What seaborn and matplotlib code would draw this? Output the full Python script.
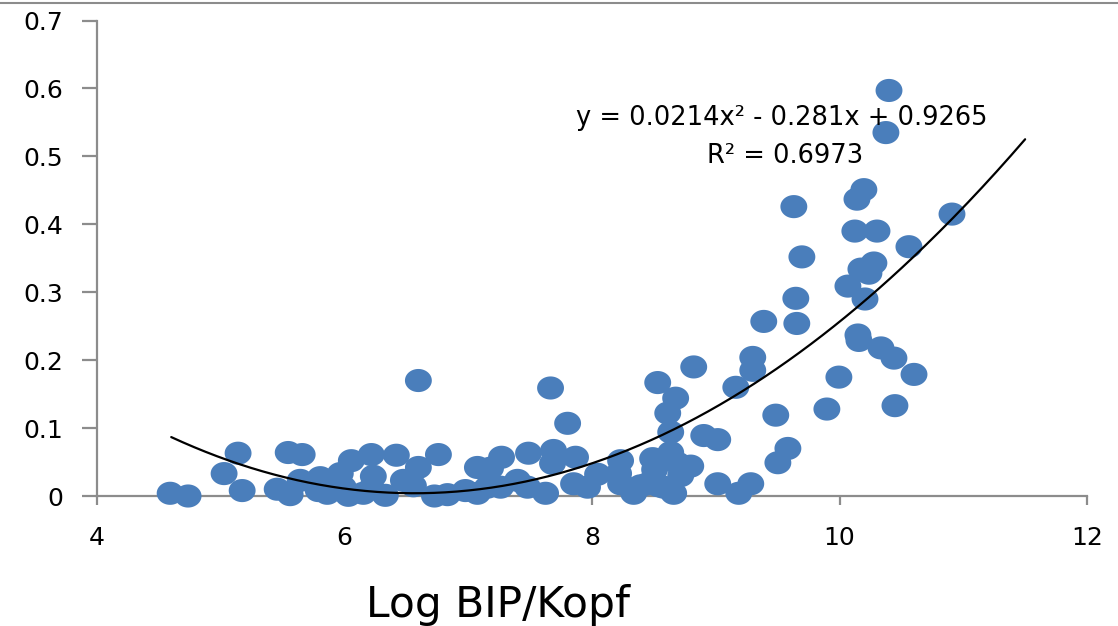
import numpy as np
import pandas as pd
import matplotlib
matplotlib.use("Agg")
import matplotlib.pyplot as plt
from matplotlib.path import Path
from matplotlib.markers import MarkerStyle
from matplotlib.lines import Line2D
import seaborn as sns

# Log GDP per capita of each country
log_bip = [
    4.591, 4.736, 5.027, 5.140, 5.173, 5.456, 5.545, 5.561, 5.642, 5.658,
    5.788, 5.804, 5.861, 5.966, 5.990, 6.031, 6.055, 6.152, 6.217, 6.217,
    6.233, 6.330, 6.419, 6.476, 6.557, 6.597, 6.597, 6.759, 6.727, 6.832,
    6.977, 7.074, 7.074, 7.155, 7.180, 7.180, 7.269, 7.261, 7.398, 7.487,
    7.479, 7.625, 7.665, 7.689, 7.681, 7.803, 7.867, 7.851, 7.964, 8.045,
    8.231, 8.215, 8.231, 8.337, 8.393, 8.450, 8.490, 8.506, 8.531, 8.539,
    8.579, 8.612, 8.636, 8.636, 8.660, 8.676, 8.693, 8.717, 8.798, 8.822,
    8.903, 9.016, 9.016, 9.162, 9.186, 9.283, 9.299, 9.299, 9.388, 9.485,
    9.502, 9.583, 9.631, 9.647, 9.655, 9.696, 9.898, 9.995, 10.068, 10.124,
    10.141, 10.149, 10.157, 10.173, 10.197, 10.206, 10.238, 10.278, 10.303, 10.335,
    10.375, 10.400, 10.440, 10.448, 10.561, 10.602, 10.909,
]

# Observed value for each country
wert = [
    0.004, 0.000, 0.033, 0.063, 0.008, 0.010, 0.064, 0.002, 0.023, 0.061,
    0.008, 0.027, 0.004, 0.033, 0.013, 0.001, 0.052, 0.004, 0.011, 0.061,
    0.029, 0.001, 0.060, 0.023, 0.015, 0.042, 0.170, 0.061, 0.000, 0.002,
    0.008, 0.042, 0.004, 0.013, 0.041, 0.018, 0.057, 0.013, 0.023, 0.063,
    0.013, 0.004, 0.159, 0.067, 0.048, 0.107, 0.057, 0.018, 0.013, 0.032,
    0.052, 0.033, 0.018, 0.004, 0.015, 0.018, 0.055, 0.039, 0.167, 0.015,
    0.013, 0.122, 0.094, 0.064, 0.004, 0.144, 0.048, 0.030, 0.044, 0.190,
    0.089, 0.083, 0.018, 0.160, 0.004, 0.018, 0.204, 0.185, 0.257, 0.119,
    0.049, 0.070, 0.426, 0.291, 0.254, 0.352, 0.128, 0.175, 0.309, 0.390,
    0.437, 0.237, 0.229, 0.334, 0.451, 0.290, 0.328, 0.343, 0.390, 0.218,
    0.535, 0.597, 0.203, 0.133, 0.367, 0.179, 0.415,
]

# Quadratic trend line coefficients and fit quality
trend_a, trend_b, trend_c = 0.0214, -0.281, 0.9265
trend_r2 = 0.6973
trend_range = (4.6, 11.5)

x_ticks = [4, 6, 8, 10, 12]
y_ticks = [0, 0.1, 0.2, 0.3, 0.4, 0.5, 0.6, 0.7]
y_tick_labels = ["0", "0.1", "0.2", "0.3", "0.4", "0.5", "0.6", "0.7"]
x_title = "Log BIP/Kopf"

sns.set_theme(style="white")
plt.rcParams["font.family"] = ["DejaVu Sans"]

W, H = 1118, 626
fig = plt.figure(figsize=(W / 100, H / 100), dpi=100)
ax = fig.add_axes([97 / W, (H - 496) / H, (1087 - 97) / W, (496 - 20.5) / H])

df = pd.DataFrame({"x": log_bip, "y": wert})

# slightly flattened ellipse marker
t = np.linspace(0, 2 * np.pi, 64)
ellipse = MarkerStyle(Path(np.column_stack([np.cos(t), 0.86 * np.sin(t)]), closed=True))

sns.scatterplot(data=df, x="x", y="y", ax=ax, marker=ellipse, s=375,
                color="#4A7EBB", edgecolor="none", linewidth=0,
                clip_on=False, zorder=3, legend=False)

xf = np.linspace(trend_range[0], trend_range[1], 300)
trend = pd.DataFrame({"x": xf, "y": trend_a * xf ** 2 + trend_b * xf + trend_c})
sns.lineplot(data=trend, x="x", y="y", ax=ax, color="black", linewidth=1.6,
             zorder=4, clip_on=False)

ax.set_xlim(4, 12)
ax.set_ylim(0, 0.7)
ax.set_xticks(x_ticks)
ax.set_xticklabels([str(v) for v in x_ticks])
ax.set_yticks(y_ticks)
ax.set_yticklabels(y_tick_labels)
ax.set_xlabel("")
ax.set_ylabel("")
ax.grid(False)

for side in ["top", "right"]:
    ax.spines[side].set_visible(False)
for side in ["left", "bottom"]:
    ax.spines[side].set_color("#8C8C8C")
    ax.spines[side].set_linewidth(1.6)
    ax.spines[side].set_zorder(1)

ax.tick_params(axis="y", direction="out", length=10.5, width=1.6, color="#8C8C8C",
               labelsize=18, pad=14, left=True, labelcolor="black")
ax.tick_params(axis="x", direction="out", length=6.5, width=1.6, color="#8C8C8C",
               labelsize=18, pad=15, bottom=True, labelcolor="black")

eq = f"y = {trend_a}x² - {abs(trend_b)}x + {trend_c}"
fig.text(782 / W, 1 - 118 / H, eq, ha="center", va="center", fontsize=18.5, color="black")
fig.text(785 / W, 1 - 156 / H, f"R² = {trend_r2}", ha="center", va="center",
         fontsize=18.5, color="black")

fig.text(498 / W, 1 - 617 / H, x_title, ha="center", va="baseline", fontsize=30.5,
         color="black")

# thin frame line along the top edge
fig.add_artist(Line2D([0, 1], [1 - 2.5 / H, 1 - 2.5 / H], transform=fig.transFigure,
                      color="#8C8C8C", linewidth=1.5))

fig.savefig("out.png", dpi=100, facecolor="white")
